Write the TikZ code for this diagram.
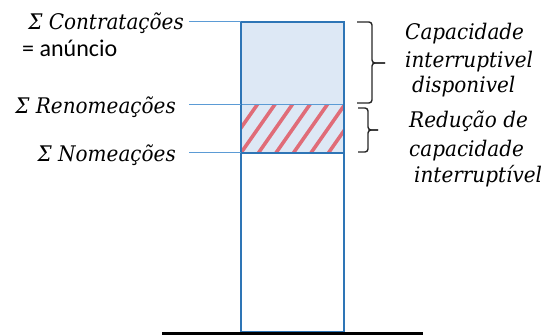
\documentclass[tikz,border=0pt]{standalone}
\usepackage{fontspec}
\setmainfont{DejaVu Serif}
\newfontfamily\calib{Carlito}
\newfontfamily\lblfont[FakeStretch=0.93]{DejaVu Serif}
\definecolor{barblue}{HTML}{2E75B6}
\definecolor{leadblue}{HTML}{5B9BD5}
\definecolor{fillblue}{HTML}{DDE8F5}
\definecolor{stripered}{HTML}{E06C78}
\tikzset{
  lbl/.style={font=\lblfont\fontsize{21.5}{21.5}\selectfont\itshape, inner sep=0pt},
  lead/.style={draw=leadblue, line width=1pt},
  barline/.style={draw=barblue, line width=2pt},
  bracestyle/.style={draw=black!85, line width=1.4pt, rounded corners=3pt},
}
\begin{document}
\begin{tikzpicture}[x=1pt,y=-1pt]
\useasboundingbox (0,0) rectangle (549,336);
% fills
\fill[fillblue] (241,22) rectangle (344,153);
\begin{scope}
\clip (241,105) rectangle (344,153);
\foreach \i in {-2,...,8} {
  \draw[stripered, line width=3.6pt] (236+\i*17.5,160) -- (278+\i*17.5,100);
}
\end{scope}
% bar
\coordinate (btl) at (241,22);
\coordinate (bbr) at (344,332);
\coordinate (rl) at (241,105);
\coordinate (rr) at (344,105);
\coordinate (nl) at (241,153);
\coordinate (nr) at (344,153);
\draw[draw=leadblue, line width=1pt] (rl) -- (rr);
\draw[barline] (nl) -- (nr);
\draw[barline] (btl) rectangle (bbr);
% ground
\coordinate (g1) at (162,333.5);
\coordinate (g2) at (423,333.5);
\draw[line width=3pt] (g1) -- (g2);
% leaders
\coordinate (c0) at (189,22);
\coordinate (r0) at (189,105);
\coordinate (n0) at (189,153);
\draw[lead] (c0) -- (btl);
\draw[lead] (r0) -- (rl);
\draw[lead] (n0) -- (nl);
% left labels
\node[lbl, anchor=base east] (tc) at (184,30) {Σ Contratações};
\node[inner sep=0pt, anchor=base west, font=\calib\fontsize{24}{24}\selectfont] (ta) at (22,57) {= anúncio};
\node[lbl, anchor=base east] (tr) at (176,114) {Σ Renomeações};
\node[lbl, anchor=base east] (tn) at (176,162) {Σ Nomeações};
% braces
\coordinate (b1a) at (357,22);
\coordinate (b1b) at (372,22);
\coordinate (b1m) at (372,63);
\coordinate (b1t) at (385,63);
\coordinate (b1c) at (372,103);
\coordinate (b1d) at (357,103);
\draw[bracestyle] (b1a) -- (b1b) -- (b1m) -- (b1t);
\draw[bracestyle] (b1t) -- (b1m) -- (b1c) -- (b1d);
\coordinate (b2a) at (358,108);
\coordinate (b2b) at (368,108);
\coordinate (b2m) at (368,130);
\coordinate (b2t) at (378,130);
\coordinate (b2c) at (368,152);
\coordinate (b2d) at (358,152);
\draw[bracestyle] (b2a) -- (b2b) -- (b2m) -- (b2t);
\draw[bracestyle] (b2t) -- (b2m) -- (b2c) -- (b2d);
% right labels
\node[lbl, anchor=base west] (l1) at (405,40) {Capacidade};
\node[lbl, anchor=base west] (l2) at (405,68) {interruptivel};
\node[lbl, anchor=base west] (l3) at (412,93) {disponivel};
\node[lbl, anchor=base west] (l4) at (409,128) {Redução de};
\node[lbl, anchor=base west] (l5) at (409,157) {capacidade};
\node[lbl, anchor=base west] (l6) at (414,183) {interruptível};
\end{tikzpicture}
\end{document}
